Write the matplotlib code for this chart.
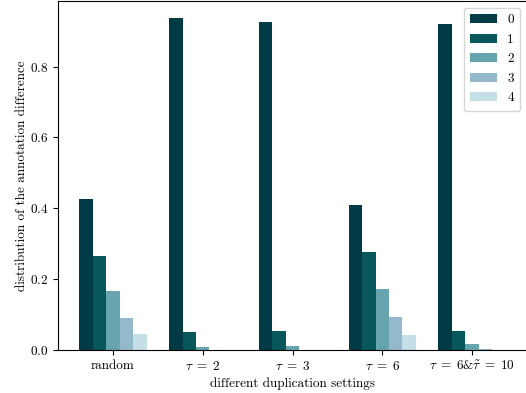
import numpy as np
import matplotlib
matplotlib.use('Agg')
import matplotlib.pyplot as plt

plt.rcParams['font.family'] = 'serif'
plt.rcParams['font.serif'] = ['cmr10']
plt.rcParams['mathtext.fontset'] = 'cm'
plt.rcParams['axes.formatter.use_mathtext'] = True
plt.rcParams['font.size'] = 9.5

settings = ['random', r'$\tau\;=\;2$', r'$\tau\;=\;3$', r'$\tau\;=\;6$',
            r'$\tau\;=\;6$&$\tilde{\tau}\;=\;10$']
diff_labels = ['0', '1', '2', '3', '4']
diff0 = [0.427, 0.938, 0.927, 0.410, 0.919]
diff1 = [0.266, 0.051, 0.054, 0.277, 0.054]
diff2 = [0.167, 0.009, 0.011, 0.172, 0.018]
diff3 = [0.090, 0.000, 0.001, 0.094, 0.004]
diff4 = [0.046, 0.000, 0.000, 0.043, 0.000]
colors = ['#003B46', '#07575B', '#66A5AD', '#93B9CB', '#C4DFE6']

fig = plt.figure(figsize=(5.26, 3.93), dpi=100)
ax = fig.add_axes([58/526, 43/393, 469/526, 349/393])

x = np.arange(len(settings))
w = 0.15
for i, vals in enumerate([diff0, diff1, diff2, diff3, diff4]):
  ax.bar(x + (i - 2) * w, vals, w, color=colors[i], label=diff_labels[i])

ax.set_xticks(x)
ax.set_xticklabels(settings)
ax.set_yticks([0.0, 0.2, 0.4, 0.6, 0.8])
ax.set_xlabel('different duplication settings', labelpad=3)
ax.set_ylabel('distribution of the annotation difference', labelpad=1)
ax.legend(loc='upper right', borderpad=0.5, labelspacing=0.55)
fig.savefig('out.png', dpi=100)
